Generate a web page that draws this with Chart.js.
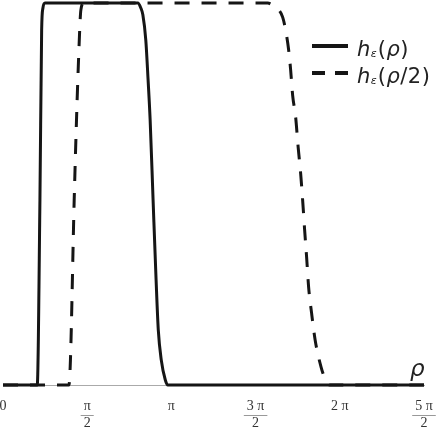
<!DOCTYPE html>
<html>
  <head>
    <title>h_eps bump</title>
    <script src="https://cdn.jsdelivr.net/npm/chart.js"></script>
    <style>
      html, body { margin: 0; padding: 0; background: #fff; }
      #wrap { width: 438px; height: 430px; }
    </style>
  </head>
  <body>
    <div id="wrap"><canvas id="bumpChart"></canvas></div>
    <script>
      const PI = Math.PI;

      // h_eps(rho)
      const solidRho = [0, 0.639, 0.689, 0.721, 0.745, 0.783, 2.515, 2.571, 2.609, 2.664, 2.707, 2.745, 2.800, 2.856, 2.897, 2.953, 3.028, 3.074, 7.854];
      const solidH   = [0, 0,     0.484, 0.929, 0.987, 1,     1,     0.987, 0.969, 0.903, 0.798, 0.694, 0.484, 0.275, 0.144, 0.065, 0.013, 0,     0];

      // h_eps(rho/2)
      const dashRho = [0, 1.230, 1.258, 1.328, 1.416, 1.453, 1.509, 4.938, 5.049, 5.143, 5.217, 5.273, 5.329, 5.366, 5.403, 5.459, 5.506, 5.552, 5.590, 5.627, 5.664, 5.701, 5.757, 5.823, 5.934, 6.018, 6.093, 7.854];
      const dashH   = [0, 0,     0.065, 0.484, 0.877, 0.982, 1,     1,     0.992, 0.982, 0.963, 0.929, 0.877, 0.825, 0.759, 0.702, 0.623, 0.555, 0.484, 0.406, 0.335, 0.257, 0.188, 0.118, 0.047, 0.013, 0,     0];

      const tickValues = [0, PI / 2, PI, 3 * PI / 2, 2 * PI, 5 * PI / 2];
      const tickLabels = [["0"], ["π", "2"], ["π"], ["3 π", "2"], ["2 π"], ["5 π", "2"]];
      const seriesLabels = ["hε(ρ)", "hε(ρ/2)"];
      const axisName = "ρ";

      const TICK_PAD = 13;
      const TICK_LH = 16.8;

      const toPoints = (xs, ys) => xs.map((x, i) => ({ x: x, y: ys[i] }));

      // fraction bars under numerators, axis name and legend
      const extras = {
        id: "extras",
        afterDraw(chart) {
          const ctx = chart.ctx;
          const xs = chart.scales.x;
          const area = chart.chartArea;
          ctx.save();

          ctx.font = '14px "Liberation Serif"';
          ctx.strokeStyle = "#999";
          ctx.lineWidth = 1;
          xs.ticks.forEach((t, i) => {
            const lab = tickLabels[i];
            if (lab.length < 2) return;
            const px = xs.getPixelForValue(t.value);
            const w = ctx.measureText(lab[0]).width + 6;
            const y = Math.round(xs.top + TICK_PAD + TICK_LH) + 0.5;
            ctx.beginPath();
            ctx.moveTo(px - w / 2, y);
            ctx.lineTo(px + w / 2, y);
            ctx.stroke();
          });

          ctx.fillStyle = "#222";
          ctx.font = 'italic 23px "DejaVu Sans"';
          ctx.textBaseline = "alphabetic";
          ctx.fillText(axisName, area.right - 14, area.bottom - 9);

          // legend
          const sx0 = 312, sx1 = 348, tx = 357;
          chart.data.datasets.forEach((ds, i) => {
            const ly = 46 + i * 27;
            ctx.strokeStyle = ds.borderColor;
            ctx.lineWidth = 4;
            ctx.setLineDash(ds.borderDash && ds.borderDash.length ? [13, 10] : []);
            ctx.beginPath();
            ctx.moveTo(sx0, ly);
            ctx.lineTo(sx1, ly);
            ctx.stroke();
            ctx.setLineDash([]);

            let x = tx;
            const base = ly + 10;
            for (const ch of ds.label) {
              let font = '21px "DejaVu Sans"', dy = 0;
              if (ch === "h" || ch === "ρ") font = 'italic 21px "DejaVu Sans"';
              if (ch === "ε") { font = 'italic 11px "DejaVu Sans"'; dy = 1; }
              ctx.font = font;
              ctx.fillText(ch, x, base + dy);
              x += ctx.measureText(ch).width + (ch === "ε" ? 1 : 0.5);
            }
          });
          ctx.restore();
        }
      };

      new Chart(document.getElementById("bumpChart"), {
        type: "line",
        data: {
          datasets: [
            {
              label: seriesLabels[0],
              data: toPoints(solidRho, solidH),
              borderColor: "#151515",
              borderWidth: 3,
              pointRadius: 0,
              cubicInterpolationMode: "monotone",
              clip: false,
              fill: false
            },
            {
              label: seriesLabels[1],
              data: toPoints(dashRho, dashH),
              borderColor: "#151515",
              borderWidth: 3,
              borderDash: [15, 12],
              borderCapStyle: "butt",
              pointRadius: 0,
              cubicInterpolationMode: "monotone",
              clip: false,
              fill: false
            }
          ]
        },
        options: {
          responsive: true,
          maintainAspectRatio: false,
          animation: false,
          layout: { padding: { top: 3, left: 3, right: 14, bottom: 0 } },
          plugins: { legend: { display: false }, tooltip: { enabled: false } },
          scales: {
            x: {
              type: "linear",
              min: 0,
              max: 5 * PI / 2,
              afterBuildTicks: (scale) => { scale.ticks = tickValues.map(v => ({ value: v })); },
              afterFit: (scale) => {
                scale.height = 45;
                scale.paddingLeft = 0;
                scale.paddingRight = 0;
              },
              grid: { display: false, drawTicks: false },
              border: { display: true, color: "#aaa", width: 1 },
              ticks: {
                autoSkip: false,
                maxRotation: 0,
                padding: TICK_PAD,
                color: "#333",
                font: { family: "Liberation Serif", size: 14, lineHeight: 1.2 },
                callback: (value, index) => {
                  const lab = tickLabels[index];
                  return lab.length > 1 ? lab : lab[0];
                }
              }
            },
            y: {
              display: false,
              min: 0,
              max: 1
            }
          }
        },
        plugins: [extras]
      });
    </script>
  </body>
</html>
